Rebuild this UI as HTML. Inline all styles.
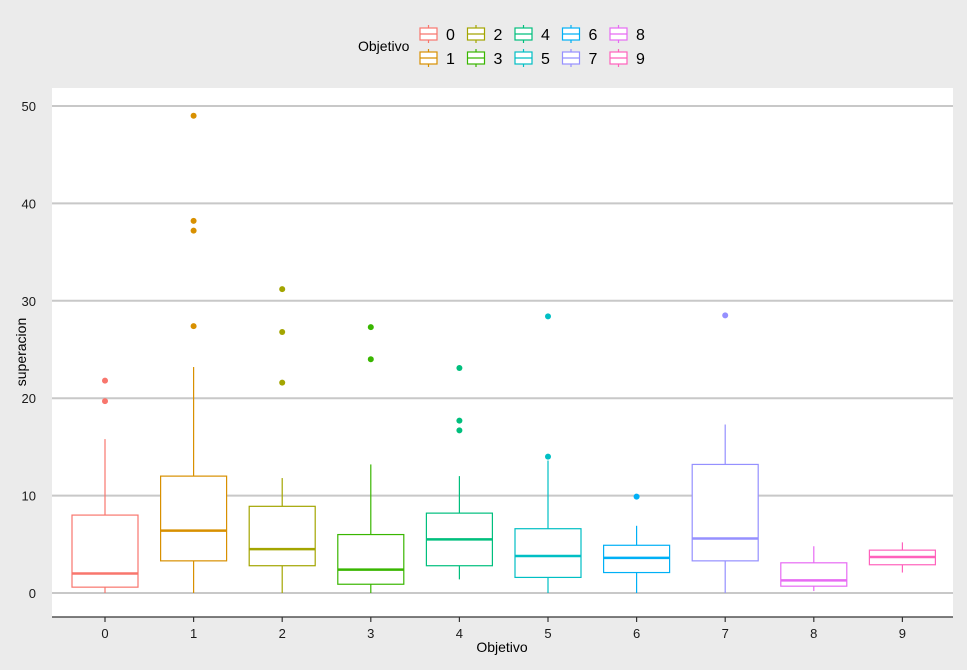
<!DOCTYPE html>
<html><head><meta charset="utf-8"><style>
body{margin:0;background:#ebebeb;font-family:"Liberation Sans",sans-serif}
svg{display:block}
</style></head><body>
<svg id="c" width="967" height="670" font-family="Liberation Sans, sans-serif">
<rect x="0" y="0" width="967" height="670" fill="#ebebeb"/>
<rect x="52" y="88" width="901" height="529" fill="#fff"/>
<g id="grid"></g><g id="boxes"></g><g id="axes"></g><g id="legend"></g>
</svg>
<script>
const categories=["0","1","2","3","4","5","6","7","8","9"];
const colors=["#F8766D","#D89000","#A3A500","#39B600","#00BF7D","#00BFC4","#00B0F6","#9590FF","#E76BF3","#FF62BC"];
const lowerWhisker=[0,0,0,0,1.4,0,0,0,0.2,2.1];
const q1=[0.6,3.3,2.8,0.9,2.8,1.6,2.1,3.3,0.7,2.9];
const median=[2,6.4,4.5,2.4,5.5,3.8,3.6,5.6,1.3,3.7];
const q3=[8,12,8.9,6,8.2,6.6,4.9,13.2,3.1,4.4];
const upperWhisker=[15.8,23.2,11.8,13.2,12,13.6,6.9,17.3,4.8,5.2];
const outliers=[[19.7,21.8],[27.4,37.2,38.2,49],[21.6,26.8,31.2],[24,27.3],[16.7,17.7,23.1],[14,28.4],[9.9],[28.5],[],[]];
const yTicks=[0,10,20,30,40,50];
const NS="http://www.w3.org/2000/svg";
function y(v){return 593-v*9.74;}
function x(i){return 105+i*88.6;}
function mk(tag,attrs,parent){const e=document.createElementNS(NS,tag);for(const k in attrs)e.setAttribute(k,attrs[k]);parent.appendChild(e);return e;}
const grid=document.getElementById('grid'),boxes=document.getElementById('boxes'),axes=document.getElementById('axes'),legend=document.getElementById('legend');
yTicks.forEach(t=>{
 const l=mk('line',{x1:52,x2:953,y1:y(t),y2:y(t),stroke:'#c8c8c8','stroke-width':2},grid);
 
 
 const tx=mk('text',{x:36,y:y(t)+5,'text-anchor':'end','font-size':13,fill:'#1a1a1a'},axes);
 tx.textContent=t;
 
 
});
const hw=33;
categories.forEach((c,i)=>{
 const g=mk('g',{stroke:colors[i],fill:'none','stroke-width':1.2},boxes);
 
 
 const cx=x(i);
 mk('line',{x1:cx,x2:cx,y1:y(q3[i]),y2:y(upperWhisker[i])},g);
 mk('line',{x1:cx,x2:cx,y1:y(q1[i]),y2:y(lowerWhisker[i])},g);
 mk('rect',{x:cx-hw,y:y(q3[i]),width:2*hw,height:y(q1[i])-y(q3[i]),fill:'#fff'},g);
 mk('line',{x1:cx-hw,x2:cx+hw,y1:y(median[i]),y2:y(median[i]),'stroke-width':2.5},g);
 outliers[i].forEach(o=>{
  const p=mk('circle',{cx:cx,cy:y(o),r:3,fill:colors[i],stroke:'none'},boxes);
  
  
 });
 mk('line',{x1:cx,x2:cx,y1:617,y2:622,stroke:'#333','stroke-width':1.2},axes);
 const tx=mk('text',{x:cx,y:638,'text-anchor':'middle','font-size':13,fill:'#1a1a1a'},axes);
 tx.textContent=c;
 
 
});
const ax=mk('line',{x1:52,x2:953,y1:617,y2:617,stroke:'#333','stroke-width':1.2},axes);


const xt=mk('text',{x:502,y:652,'text-anchor':'middle','font-size':14,fill:'#000'},axes);
xt.textContent='Objetivo';


const yt=mk('text',{x:0,y:0,'text-anchor':'middle','font-size':14,fill:'#000',transform:'translate(26,352) rotate(-90)'},axes);
yt.textContent='superacion';


const lt=mk('text',{x:358,y:51,'font-size':14,fill:'#000'},legend);
lt.textContent='Objetivo';


categories.forEach((c,i)=>{
 const col=Math.floor(i/2),row=i%2;
 const kx=420+col*47.5,ky=34+row*24;
 const g=mk('g',{stroke:colors[i],fill:'none','stroke-width':1.2},legend);
 
 
 mk('line',{x1:kx+8.5,x2:kx+8.5,y1:ky-9,y2:ky+9},g);
 mk('rect',{x:kx,y:ky-6,width:17,height:12,fill:'#fff'},g);
 mk('line',{x1:kx,x2:kx+17,y1:ky,y2:ky},g);
 const t=mk('text',{x:kx+26,y:ky+6,'font-size':16,fill:'#000',stroke:'none'},g);
 t.textContent=c;
});
</script>
</body></html>
